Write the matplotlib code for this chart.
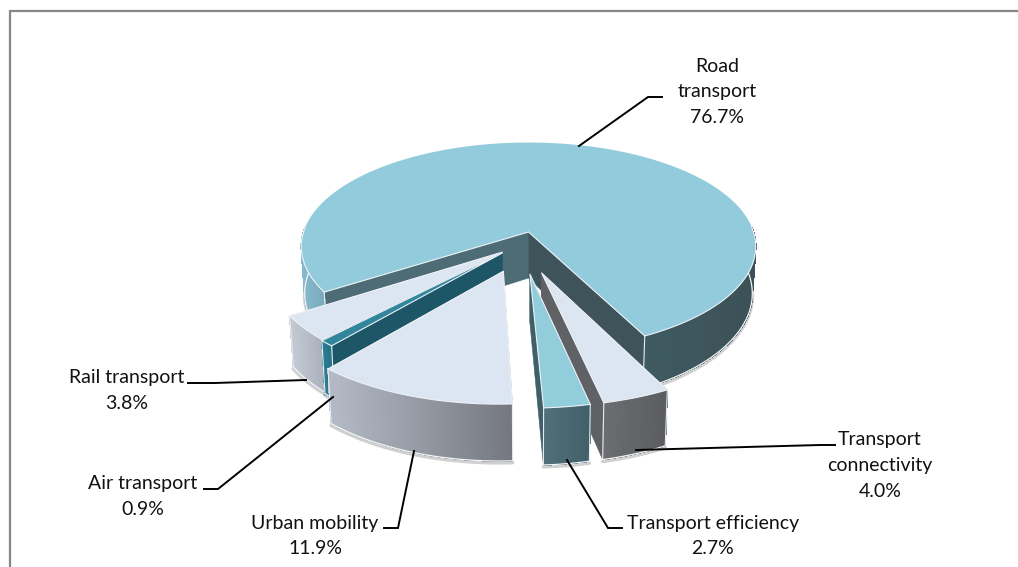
import numpy as np
import matplotlib
matplotlib.use('Agg')
import matplotlib.pyplot as plt
from matplotlib.collections import PolyCollection
from matplotlib.colors import to_rgb

# Data, clockwise from where road transport starts
categories = ['Road\ntransport', 'Transport\nconnectivity', 'Transport efficiency', 'Urban mobility',
              'Air transport', 'Rail transport']
shares = [76.7, 4.0, 2.7, 11.9, 0.9, 3.8]

start_angle = 147.0

# Look of the slices
explode_x = [0.0, 0.055, 0.006, -0.106, -0.113, -0.113]
explode_y = [0.0, 0.38, 0.39, 0.365, 0.2, 0.192]
top_colours = ['#92cbdc', '#dce6f2', '#92cddc', '#dce6f2', '#31859c', '#dce6f2']
wall_stops = [
    [(0.0, '#86b9cb'), (0.05, '#78aabc'), (0.75, '#3f5a61'), (1.0, '#3c5157')],
    [(0.0, '#6b6d71'), (1.0, '#5a5c60')],
    [(0.0, '#4f6f79'), (1.0, '#426069')],
    [(0.0, '#b4bbc6'), (1.0, '#74777f')],
    [(0.0, '#2b7c92'), (1.0, '#266f83')],
    [(0.0, '#c4cad4'), (1.0, '#a9b0bb')],
]
# walls along the two straight edges: at the start of the sweep, at its end
side_colours = [('#4e6c76', '#3e545a'), ('#5f6165', '#5f6165'), ('#426069', '#3f5f69'),
                ('#74777f', '#b4bbc6'), ('#1d5666', '#1d5666'), ('#aab1bc', '#aab1bc')]
draw_order = [0, 5, 4, 3, 1, 2]

# Layout in pixels
width, height = 1018, 567
cx, cy = 528.5, 232
rx, ry = 225, 102
persp = 0.14
depth = 46

# Label layout: text centre x, first line y, then the leader line
label_x = [717, 880, 713, 315, 143, 127]
label_y = [66, 440, 523, 523, 484, 378]
leader_x = [[662, 648, 579], [835, 820, 636], [622, 608, 567], [384, 398, 414],
            [204, 218, 333], [188, 215, 306]]
leader_y = [[97, 97, 146], [445, 445, 450], [528, 528, 460], [528, 528, 451],
            [489, 489, 397], [383, 383, 380]]


def project(px, py):
    s = 1 / (1 - persp * py)
    return cx + rx * px * s, cy + ry * py * s, s


def lower(x, y, s):
    return cx + (x - cx) * 0.985, y + depth * s


def stop_colour(stops, t):
    pos = [p for p, _ in stops]
    rgb = np.array([to_rgb(c) for _, c in stops])
    return [np.interp(t, pos, rgb[:, i]) for i in range(3)]


plt.rcParams['font.family'] = ['Lato', 'DejaVu Sans']

fig = plt.figure(figsize=(width / 100, height / 100), dpi=100)
ax = fig.add_axes([0, 0, 1, 1])
ax.set_xlim(0, width)
ax.set_ylim(height, 0)
ax.axis('off')

# Chart frame, only top and left show in the picture
ax.plot([10.5, 10.5, width], [height, 10.5, 10.5], color='#868686', lw=1.6, zorder=1,
        solid_joinstyle='miter')

sweeps = np.array(shares) / sum(shares) * 360
ends = start_angle + np.cumsum(sweeps)
starts = ends - sweeps

# Slices in the order they overlap, road is at the back
z = 2
for i in draw_order:
    a = np.radians(np.linspace(starts[i], ends[i], max(int(sweeps[i] * 2), 12)))
    x, y, s = project(explode_x[i] + np.cos(a), explode_y[i] + np.sin(a))
    ax_x, ax_y, ax_s = project(explode_x[i], explode_y[i])
    bx, by = lower(x, y, s)
    abx, aby = lower(ax_x, ax_y, ax_s)

    # shadow under the outer wall, nan breaks the line where the wall is out of sight
    front = np.sin(a) > -0.05
    rim_x = np.where(front, bx, np.nan)
    rim_y = np.where(front, by, np.nan)
    ax.plot(rim_x, rim_y + 1.8, color='#444444', alpha=0.25, lw=2.6, zorder=z,
            solid_capstyle='round')

    # radial walls, the one nearer the viewer goes last
    walls = [(y[0], x[0], bx[0], by[0], side_colours[i][0]),
             (y[-1], x[-1], bx[-1], by[-1], side_colours[i][1])]
    walls.sort(key=lambda w: w[0])
    for ey, ex, ebx, eby, col in walls:
        ax.fill([ax_x, ex, ebx, abx], [ax_y, ey, eby, aby], color=col, lw=0.4, zorder=z + 0.1)

    # outer wall, painted as small quads to get the gradient
    lo, hi = x[front].min(), x[front].max()
    quads, cols = [], []
    for k in range(len(a) - 1):
        if not (front[k] and front[k + 1]):
            continue
        quads.append([(x[k], y[k]), (x[k + 1], y[k + 1]), (bx[k + 1], by[k + 1]), (bx[k], by[k])])
        cols.append(stop_colour(wall_stops[i], ((x[k] + x[k + 1]) / 2 - lo) / (hi - lo)))
    ax.add_collection(PolyCollection(quads, facecolors=cols, edgecolors=cols, linewidths=0.5,
                                     antialiaseds=False, zorder=z + 0.2))
    ax.plot(rim_x, rim_y, color='#f4f6f8', lw=0.9, zorder=z + 0.3)
    for m in (0, -1):
        ax.plot([x[m], bx[m]], [y[m], by[m]], color='#e8ecf0', lw=0.8, zorder=z + 0.3)

    # top of the slice, light edge only along the side facing the viewer
    ax.fill(np.r_[ax_x, x], np.r_[ax_y, y], color=top_colours[i], lw=0, zorder=z + 0.4)
    ax.plot(np.where(front, x, np.nan), np.where(front, y, np.nan), color='#eef2f6', lw=0.8, zorder=z + 0.5)
    ax.plot([x[0], ax_x, x[-1]], [y[0], ax_y, y[-1]], color='#eef2f6', lw=0.8, zorder=z + 0.5)
    z += 1

# Labels and leader lines
for i, name in enumerate(categories):
    lines = name.split('\n') + [f'{shares[i]:.1f}%']
    for n, line in enumerate(lines):
        ax.text(label_x[i], label_y[i] + n * 25.7, line, ha='center', va='center',
                fontsize=14, color='#111111', zorder=20)
    ax.plot(leader_x[i], leader_y[i], color='black', lw=1.4, zorder=19, solid_joinstyle='miter')

fig.savefig('out.png', dpi=100, facecolor='white')
